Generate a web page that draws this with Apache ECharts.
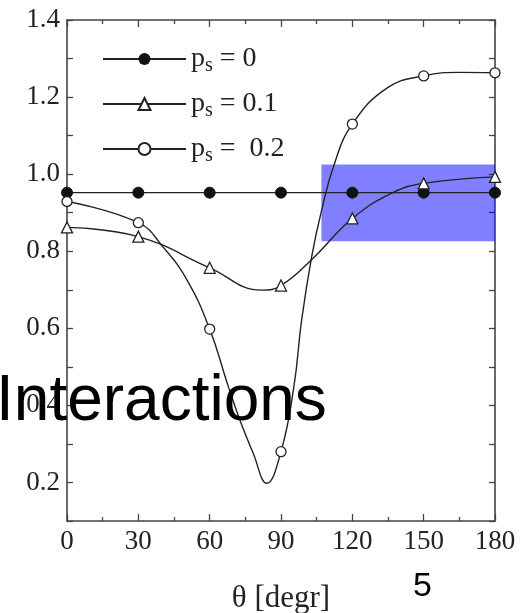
<!DOCTYPE html>
<html>
<head>
<meta charset="utf-8">
<script src="https://cdn.jsdelivr.net/npm/echarts@6/dist/echarts.min.js"></script>
<style>
html,body{margin:0;padding:0;background:#fff;}
#chart{width:520px;height:613px;}
</style>
</head>
<body>
<div id="chart"></div>
<script>
// Marked angles (degrees) and values at the markers
const markTheta = [0, 30, 60, 90, 120, 150, 180];
const ps0Values = [0.952, 0.952, 0.952, 0.952, 0.952, 0.952, 0.952];
const ps01Values = [0.862, 0.838, 0.757, 0.711, 0.885, 0.976, 0.993];
const ps02Values = [0.929, 0.874, 0.598, 0.280, 1.130, 1.255, 1.263];
// Extra points (no markers)
const ps01TraceTheta = [82, 103.5, 137];
const ps01TraceValues = [0.699, 0.782, 0.952];
const ps02TraceTheta = [40.5, 50.5, 67.9, 72.7, 78.3, 84, 95.4, 98.7, 102.9, 106.8, 112.3, 135, 165];
const ps02TraceValues = [0.81, 0.725, 0.448, 0.362, 0.276, 0.198, 0.448, 0.622, 0.786, 0.899, 1.024, 1.225, 1.264];
// Highlight box (data coords)
const boxTheta = [107, 180];
const boxValue = [1.025, 0.826];
const xTicks = [0, 30, 60, 90, 120, 150, 180];
const legendLabels = {ps0: '0', ps01: '0.1', ps02: ' 0.2'};

function buildData(mt, mv, tt, tv) {
  const pts = mt.map((t, i) => ({value: [t, mv[i]]}));
  tt.forEach((t, i) => pts.push({value: [t, tv[i]], symbol: 'none'}));
  pts.sort((a, b) => a.value[0] - b.value[0]);
  return pts;
}

const serif = 'Liberation Serif';
const axisColor = '#444';
const chart = echarts.init(document.getElementById('chart'), null, {renderer: 'canvas'});

const yFmt = v => (Math.round(v * 10) % 2 === 0 ? v.toFixed(1) : '');
const xFmt = v => (xTicks.indexOf(Math.round(v)) >= 0 ? String(Math.round(v)) : '');

const baseX = {
  type: 'value', min: 0, max: 180, interval: 30,
  axisLine: {show: true, onZero: false, lineStyle: {color: axisColor, width: 1.6}},
  axisTick: {show: true, inside: true, length: 7, lineStyle: {color: axisColor, width: 1.3}},
  minorTick: {show: true, splitNumber: 2, length: 4, lineStyle: {color: axisColor, width: 1.3}},
  splitLine: {show: false}
};
const baseY = {
  type: 'value', min: 0.1, max: 1.4, interval: 0.1,
  axisLine: {show: true, onZero: false, lineStyle: {color: axisColor, width: 1.6}},
  axisTick: {show: true, inside: true, length: 6, lineStyle: {color: axisColor, width: 1.3}},
  splitLine: {show: false}
};

const lineStyle = {color: '#222', width: 1.4};

chart.setOption({
  animation: false,
  backgroundColor: '#fff',
  grid: {left: 67, right: 25, top: 20, bottom: 92, containLabel: false, outerBoundsMode: 'none'},
  xAxis: [
    Object.assign({}, baseX, {
      position: 'bottom',
      axisLabel: {show: true, formatter: xFmt, fontFamily: serif, fontSize: 27, color: '#222', margin: 7},
      name: 'θ [degr]', nameLocation: 'middle', nameGap: 62,
      nameTextStyle: {fontFamily: serif, fontSize: 31, color: '#222'}
    }),
    Object.assign({}, baseX, {position: 'top', axisLabel: {show: false}})
  ],
  yAxis: [
    Object.assign({}, baseY, {
      position: 'left',
      axisLabel: {show: true, formatter: yFmt, fontFamily: serif, fontSize: 27, color: '#222', margin: 7}
    }),
    Object.assign({}, baseY, {position: 'right', axisLabel: {show: false}})
  ],
  legend: {
    data: ['ps0', 'ps01', 'ps02'],
    orient: 'vertical', left: 97, top: 40,
    itemWidth: 83, itemHeight: 15, itemGap: 14,
    formatter: name => '{p|p}{s|s}{t| = ' + legendLabels[name] + '}',
    textStyle: {
      fontFamily: serif, color: '#222', padding: [0, 0, 0, 0],
      rich: {
        p: {fontFamily: serif, fontSize: 28, color: '#222'},
        s: {fontFamily: serif, fontSize: 20, color: '#222', padding: [14, 0, 0, 0]},
        t: {fontFamily: serif, fontSize: 28, color: '#222'}
      }
    }
  },
  series: [
    {
      name: 'ps0', type: 'line',
      data: markTheta.map((t, i) => [t, ps0Values[i]]),
      symbol: 'circle', symbolSize: 11,
      itemStyle: {color: '#111', borderColor: '#111'},
      lineStyle: lineStyle, z: 3
    },
    {
      name: 'ps01', type: 'line', smooth: 0.45,
      data: buildData(markTheta, ps01Values, ps01TraceTheta, ps01TraceValues),
      symbol: 'triangle', symbolSize: 11,
      itemStyle: {color: '#fff', borderColor: '#222', borderWidth: 1.3},
      lineStyle: lineStyle, z: 3
    },
    {
      name: 'ps02', type: 'line', smooth: 0.45,
      data: buildData(markTheta, ps02Values, ps02TraceTheta, ps02TraceValues),
      symbol: 'circle', symbolSize: 10,
      itemStyle: {color: '#fff', borderColor: '#222', borderWidth: 1.3},
      lineStyle: lineStyle, z: 3
    },
    {
      name: 'box', type: 'line', data: [], z: 10,
      markArea: {
        silent: true,
        itemStyle: {color: 'rgba(0,0,255,0.5)'},
        data: [[{coord: [boxTheta[0], boxValue[0]]}, {coord: [boxTheta[1], boxValue[1]]}]]
      }
    }
  ],
  graphic: [
    {type: 'text', left: -4, top: 370, z: 100,
     style: {text: 'Interactions', font: '64px "Liberation Sans"', fill: '#000'}},
    {type: 'text', left: 413, top: 570, z: 100,
     style: {text: '5', font: '34px "Liberation Sans"', fill: '#000'}}
  ]
});
</script>
</body>
</html>
